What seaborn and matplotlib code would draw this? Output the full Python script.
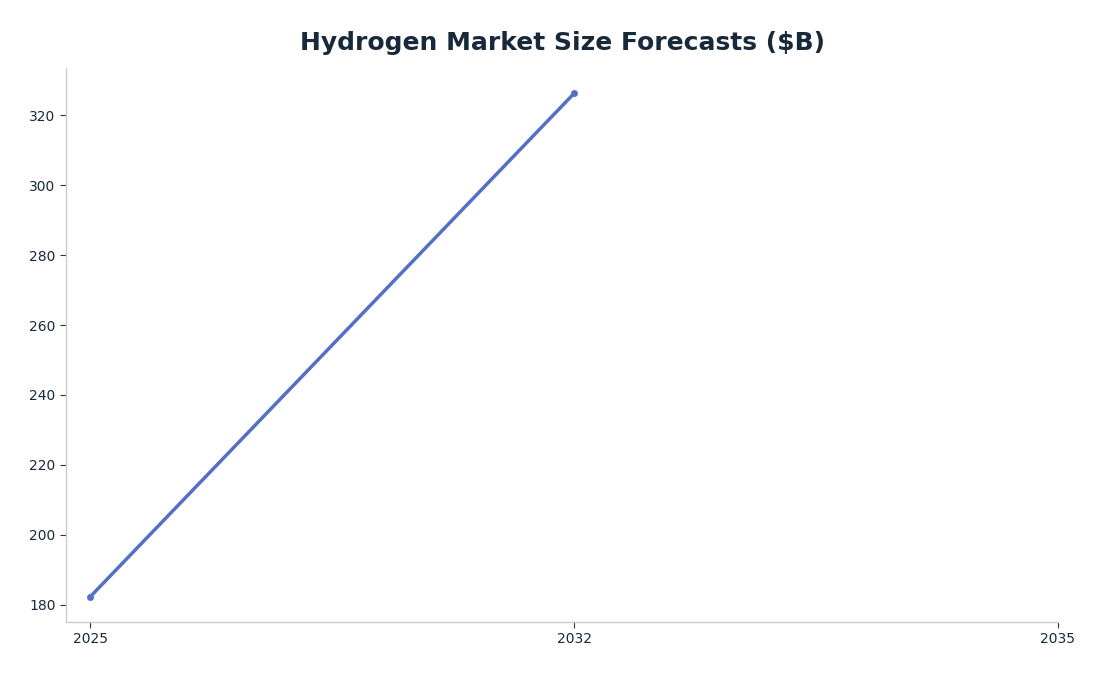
import numpy as np
import pandas as pd
import seaborn as sns
from matplotlib import pyplot as plt

years = ["2025", "2032", "2035"]
market_size = [182.3, 326.2, np.nan]

sns.set_style("white")
plt.rcParams['font.family'] = ['DejaVu Sans']

data = pd.DataFrame({"year": years, "size": market_size})

fig = plt.figure(figsize=(11.05, 6.76), dpi=100)
ax = fig.add_axes([0.0597, 0.0799, 0.8977, 0.8191])

x = np.arange(len(years))
sns.lineplot(x=x, y=data["size"], ax=ax, color="#5470C6", linewidth=2.5,
             marker="o", markersize=5, markeredgewidth=0)

ax.set_xticks(x)
ax.set_xticklabels(years)
span = x[-1] - x[0]
ax.set_xlim(x[0] - 0.025 * span, x[-1])
ax.margins(y=0.05)
ax.set_xlabel("")
ax.set_ylabel("")
fig.text(0.5086, 0.937, "Hydrogen Market Size Forecasts ($B)", fontsize=18,
         fontweight="bold", color="#18293a", ha="center", va="center")

for side in ["top", "right"]:
    ax.spines[side].set_visible(False)
for side in ["left", "bottom"]:
    ax.spines[side].set_color("#c8cdd2")
    ax.spines[side].set_linewidth(1)
ax.tick_params(axis="both", colors="#18293a", labelsize=10, length=4, direction="out",
               left=True, bottom=True)
ax.tick_params(axis="both", color="#333333")

fig.savefig("out.png", dpi=100)
